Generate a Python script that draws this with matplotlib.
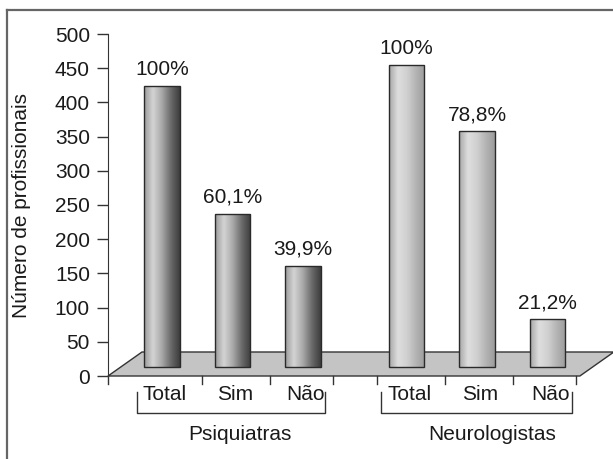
import numpy as np
import matplotlib
matplotlib.use("Agg")
import matplotlib.pyplot as plt
from matplotlib.patches import Polygon
from matplotlib.lines import Line2D
from matplotlib.colors import LinearSegmentedColormap

plt.rcParams['font.family'] = ['Liberation Sans', 'DejaVu Sans']

# data
groups = ['Psiquiatras', 'Neurologistas']
categories = ['Total', 'Sim', 'Não']
psiq_values = [424, 237, 161]
neuro_values = [455, 358, 83]
psiq_labels = ['100%', '60,1%', '39,9%']
neuro_labels = ['100%', '78,8%', '21,2%']
y_ticks = list(range(0, 501, 50))

# layout (x in bar slots, y in data units)
PX = 500 / 342.0            # data units per pixel on y
psiq_x = [0, 1, 2]
neuro_x = [3.47, 4.47, 5.47]
bar_w = 0.5
bar_base = 9 * PX
x_left, x_right = -0.766, 6.40
floor_depth = 24 * PX
floor_dx = 34 / 70.5
floor_front_right = 5.93
FS = 15

fig = plt.figure(figsize=(6.13, 4.59), dpi=100)
ax = fig.add_axes([108 / 613, 83 / 459, 505 / 613, 342 / 459])

# outer frame (only top and left visible)
fig.add_artist(Line2D([7 / 613, 7 / 613], [0, 1 - 10 / 459], color='#666666', lw=1.6))
fig.add_artist(Line2D([7 / 613, 1], [1 - 10 / 459, 1 - 10 / 459], color='#666666', lw=1.6))

# floor
floor = Polygon([(x_left, 0), (floor_front_right, 0),
                 (floor_front_right + floor_dx, floor_depth),
                 (x_left + floor_dx, floor_depth)],
                closed=True, facecolor='#c4c4c4', edgecolor='#333333', lw=1.0,
                clip_on=False, zorder=1)
ax.add_patch(floor)

dark_cmap = LinearSegmentedColormap.from_list(
    'dark', ['#9a9a9a', '#d4d4d4', '#a8a8a8', '#6a6a6a', '#3c3c3c'])
light_cmap = LinearSegmentedColormap.from_list(
    'light', ['#a6a6a6', '#dedede', '#d0d0d0', '#b4b4b4', '#9c9c9c'])
grad = np.linspace(0, 1, 256).reshape(1, -1)


def draw_bars(xs, vals, labels, cmap):
    bars = ax.bar(xs, [v - bar_base for v in vals], width=bar_w, bottom=bar_base,
                  facecolor='none', edgecolor='#2a2a2a', lw=1.0, zorder=3)
    for b, v, lab in zip(bars, vals, labels):
        x0 = b.get_x()
        im = ax.imshow(grad, cmap=cmap, aspect='auto', zorder=2,
                       extent=[x0, x0 + bar_w, bar_base, v], interpolation='bicubic')
        im.set_clip_path(b)
        ax.annotate(lab, (x0 + bar_w / 2, v), xytext=(0, 5), textcoords='offset points',
                    ha='center', va='bottom', fontsize=FS, color='#1a1a1a')


draw_bars(psiq_x, psiq_values, psiq_labels, dark_cmap)
draw_bars(neuro_x, neuro_values, neuro_labels, light_cmap)

ax.set_xlim(x_left, x_right)
ax.set_ylim(0, 500)

# axes
for s in ['top', 'right']:
    ax.spines[s].set_visible(False)
ax.spines['left'].set_color('#333333')
ax.spines['bottom'].set_visible(False)
ax.set_yticks(y_ticks)
ax.tick_params(axis='y', direction='out', length=8, width=1.0, color='#333333',
               labelsize=FS, labelcolor='#1a1a1a', pad=5)
ax.set_xticks([])

tick_x = [x_left, 0.567, 1.532, 2.43, 3.05, 4.01, 4.98, 5.87]
for tx in tick_x:
    ax.plot([tx, tx], [0, -8 * PX], color='#333333', lw=1.0, clip_on=False, zorder=4)

# category labels
for xs in (psiq_x, neuro_x):
    for x, c in zip(xs, categories):
        ax.text(x + 0.04, -18 * PX, c, ha='center', va='center', fontsize=FS,
                color='#1a1a1a', clip_on=False)

# group brackets
brackets = [(-0.355, 2.31), (3.11, 5.82)]
group_x = [1.11, 4.68]
for (bl, br), gx, g in zip(brackets, group_x, groups):
    ax.plot([bl, bl, br, br], [-16 * PX, -37 * PX, -37 * PX, -16 * PX],
            color='#333333', lw=1.0, clip_on=False)
    ax.text(gx, -59 * PX, g, ha='center', va='center', fontsize=FS,
            color='#1a1a1a', clip_on=False)

ax.set_ylabel('Número de profissionais', fontsize=FS, color='#1a1a1a')
ax.yaxis.label.set_verticalalignment('center')
ax.yaxis.set_label_coords(-86 / 505, 0.5)

fig.savefig('out.png', dpi=100)
